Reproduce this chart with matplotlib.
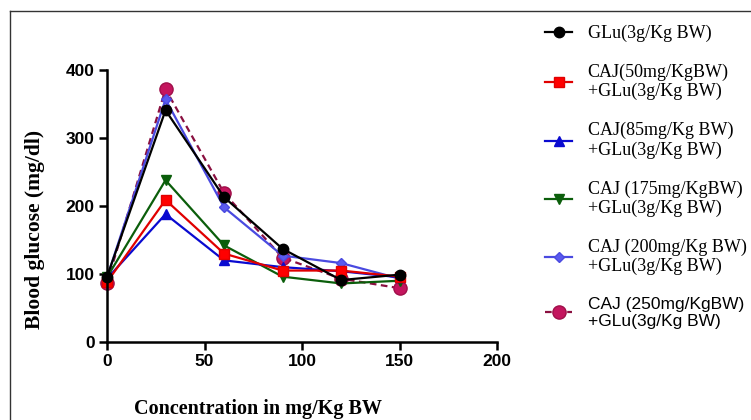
import matplotlib
matplotlib.use("Agg")
import matplotlib.pyplot as plt
from matplotlib.lines import Line2D

x = [0, 30, 60, 90, 120, 150]
glu = [96, 341, 213, 137, 91, 99]
caj50 = [88, 209, 130, 105, 105, 96]
caj85 = [93, 188, 120, 110, 104, 95]
caj175 = [95, 238, 142, 96, 86, 90]
caj200 = [95, 357, 198, 127, 116, 93]
caj250 = [87, 372, 219, 124, 93, 79]

labels = ["GLu(3g/Kg BW)",
          "CAJ(50mg/KgBW)\n+GLu(3g/Kg BW)",
          "CAJ(85mg/Kg BW)\n+GLu(3g/Kg BW)",
          "CAJ (175mg/KgBW)\n+GLu(3g/Kg BW)",
          "CAJ (200mg/Kg BW)\n+GLu(3g/Kg BW)",
          "CAJ (250mg/KgBW)\n+GLu(3g/Kg BW)"]
xticks = [0, 50, 100, 150, 200]
yticks = [0, 100, 200, 300, 400]

fig = plt.figure(figsize=(7.51, 4.2), dpi=100)
ax = fig.add_axes([0.1425, 0.186, 0.5195, 0.647])

styles = [
    (caj250, dict(color="#8a1040", ls=(0, (3, 2)), marker="o", ms=9.5, mfc="#c4155e", mec="#a0104a")),
    (caj200, dict(color="#4a4ae0", ls="-", marker="D", ms=5.5, mfc="#5a5aee", mec="#4a4ae0")),
    (caj175, dict(color="#0b5e0b", ls="-", marker="v", ms=7.5, mfc="#0b5e0b", mec="#0b5e0b")),
    (caj85, dict(color="#0a0ad0", ls="-", marker="^", ms=7.5, mfc="#0a0ad0", mec="#0a0ad0")),
    (caj50, dict(color="#e00000", ls="-", marker="s", ms=7.5, mfc="#ff0000", mec="#e00000")),
    (glu, dict(color="black", ls="-", marker="o", ms=7.5, mfc="black", mec="black")),
]
lbl_order = [labels[5], labels[4], labels[3], labels[2], labels[1], labels[0]]
handles = {}
for (vals, st), lb in zip(styles, lbl_order):
    h, = ax.plot(x, vals, lw=1.6, clip_on=False, label=lb, **st)
    handles[lb] = h

ax.set_xlim(0, 200)
ax.set_ylim(0, 400)
ax.set_xticks(xticks)
ax.set_yticks(yticks)
for s in ["top", "right"]:
    ax.spines[s].set_visible(False)
for s in ["left", "bottom"]:
    ax.spines[s].set_linewidth(1.8)
ax.tick_params(direction="out", length=6, width=1.8, pad=3)
for t in ax.get_xticklabels() + ax.get_yticklabels():
    t.set_fontfamily("Liberation Sans")
    t.set_fontweight("bold")
    t.set_fontsize(12.5)

ax.set_ylabel("Blood glucose (mg/dl)", fontfamily="Liberation Serif",
              fontweight="bold", fontsize=15.5)
ax.yaxis.set_label_coords(-0.158, 0.415)
ax.set_xlabel("Concentration in mg/Kg BW", fontfamily="Liberation Serif",
              fontweight="bold", fontsize=14.5)
ax.xaxis.set_label_coords(0.387, -0.21)

leg = fig.legend([handles[l] for l in labels], labels, loc="upper left",
                 bbox_to_anchor=(0.726, 0.941), frameon=False,
                 prop={"family": "Liberation Serif", "size": 13.0},
                 handlelength=1.5, handletextpad=0.85, labelspacing=1.2,
                 borderaxespad=0, borderpad=0)
for t in leg.get_texts():
    t.set_linespacing(1.15)
leg.get_texts()[5].set_fontfamily("Liberation Sans")
leg.get_texts()[5].set_fontsize(12.5)

# figure frame (top and left edges)
fig.add_artist(Line2D([0.0133, 1.0], [0.974, 0.974], color="#333333", lw=1.0,
                      transform=fig.transFigure))
fig.add_artist(Line2D([0.0133, 0.0133], [0.0, 0.974], color="#333333", lw=1.0,
                      transform=fig.transFigure))

fig.savefig("out.png", dpi=100)
